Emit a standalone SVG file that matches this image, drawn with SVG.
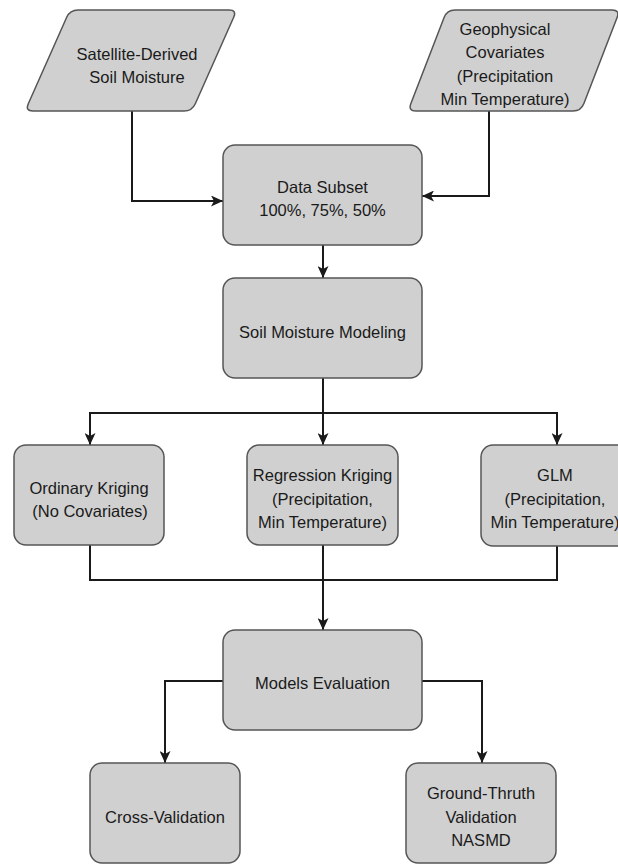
<svg xmlns="http://www.w3.org/2000/svg" width="618" height="864" viewBox="0 0 618 864">
<style>
.box{fill:#d0d0d0;stroke:#555;stroke-width:1.5}
.t{font-family:"Liberation Sans",Arial,sans-serif;font-size:16.5px;fill:#1a1a1a;text-anchor:middle}
.c{fill:none;stroke:#1a1a1a;stroke-width:2}
</style>
<defs>
<marker id="arr" viewBox="0 0 12 11" refX="12" refY="5.5" markerWidth="12" markerHeight="11" orient="auto" markerUnits="userSpaceOnUse">
<path d="M0,0 L12,5.5 L0,11 L3,5.5 Z" fill="#1a1a1a"/>
</marker>
</defs>
<rect width="618" height="864" fill="#fff"/>
<g id="connectors">
<path class="c" d="M132,111 V201 H223" marker-end="url(#arr)"/>
<path class="c" d="M489,111 V196 H422" marker-end="url(#arr)"/>
<path class="c" d="M323,245 V278" marker-end="url(#arr)"/>
<path class="c" d="M323,378 V445" marker-end="url(#arr)"/>
<path class="c" d="M323,413 H90 V445" marker-end="url(#arr)"/>
<path class="c" d="M323,413 H557 V445" marker-end="url(#arr)"/>
<path class="c" d="M90,545 V580 H557 V546"/>
<path class="c" d="M323,545 V630" marker-end="url(#arr)"/>
<path class="c" d="M223,681 H165 V763" marker-end="url(#arr)"/>
<path class="c" d="M422,681 H482 V763" marker-end="url(#arr)"/>
</g>
<g id="satellite">
<path class="box" d="M78,10 L229,10 Q237,10 233.7,17.3 L195.3,103.7 Q192,111 184,111 L33,111 Q25,111 28.3,103.7 L66.7,17.3 Q70,10 78,10 Z"/>
<text class="t" x="137" y="60">Satellite-Derived</text>
<text class="t" x="137" y="83">Soil Moisture</text>
</g>
<g id="geophysical">
<path class="box" d="M455,10 L612,10 Q620,10 617.1,17.5 L583.9,103.5 Q581,111 573,111 L416,111 Q408,111 410.9,103.5 L444.1,17.5 Q447,10 455,10 Z"/>
<text class="t" x="505" y="35">Geophysical</text>
<text class="t" x="505" y="58">Covariates</text>
<text class="t" x="505" y="82">(Precipitation</text>
<text class="t" x="505" y="105">Min Temperature)</text>
</g>
<g id="subset">
<rect class="box" x="223" y="145" width="199" height="100" rx="12"/>
<text class="t" x="322.5" y="193">Data Subset</text>
<text class="t" x="322.5" y="216">100%, 75%, 50%</text>
</g>
<g id="modeling">
<rect class="box" x="223" y="278" width="199" height="100" rx="12"/>
<text class="t" x="322.5" y="338">Soil Moisture Modeling</text>
</g>
<g id="ordinary">
<rect class="box" x="14" y="445" width="150" height="100" rx="12"/>
<text class="t" x="89" y="494">Ordinary Kriging</text>
<text class="t" x="90" y="517">(No Covariates)</text>
</g>
<g id="regression">
<rect class="box" x="247" y="445" width="151" height="100" rx="12"/>
<text class="t" x="322.5" y="481">Regression Kriging</text>
<text class="t" x="322.5" y="505">(Precipitation,</text>
<text class="t" x="322.5" y="528">Min Temperature)</text>
</g>
<g id="glm">
<rect class="box" x="481" y="445" width="151" height="101" rx="12"/>
<text class="t" x="555" y="481">GLM</text>
<text class="t" x="555" y="505">(Precipitation,</text>
<text class="t" x="555" y="528">Min Temperature)</text>
</g>
<g id="evaluation">
<rect class="box" x="223" y="630" width="199" height="100" rx="12"/>
<text class="t" x="322.5" y="689">Models Evaluation</text>
</g>
<g id="crossval">
<rect class="box" x="90" y="763" width="150" height="100" rx="12"/>
<text class="t" x="165" y="823">Cross-Validation</text>
</g>
<g id="groundtruth">
<rect class="box" x="406" y="763" width="150" height="100" rx="12"/>
<text class="t" x="481" y="799">Ground-Thruth</text>
<text class="t" x="481" y="823">Validation</text>
<text class="t" x="481" y="846">NASMD</text>
</g>
</svg>
